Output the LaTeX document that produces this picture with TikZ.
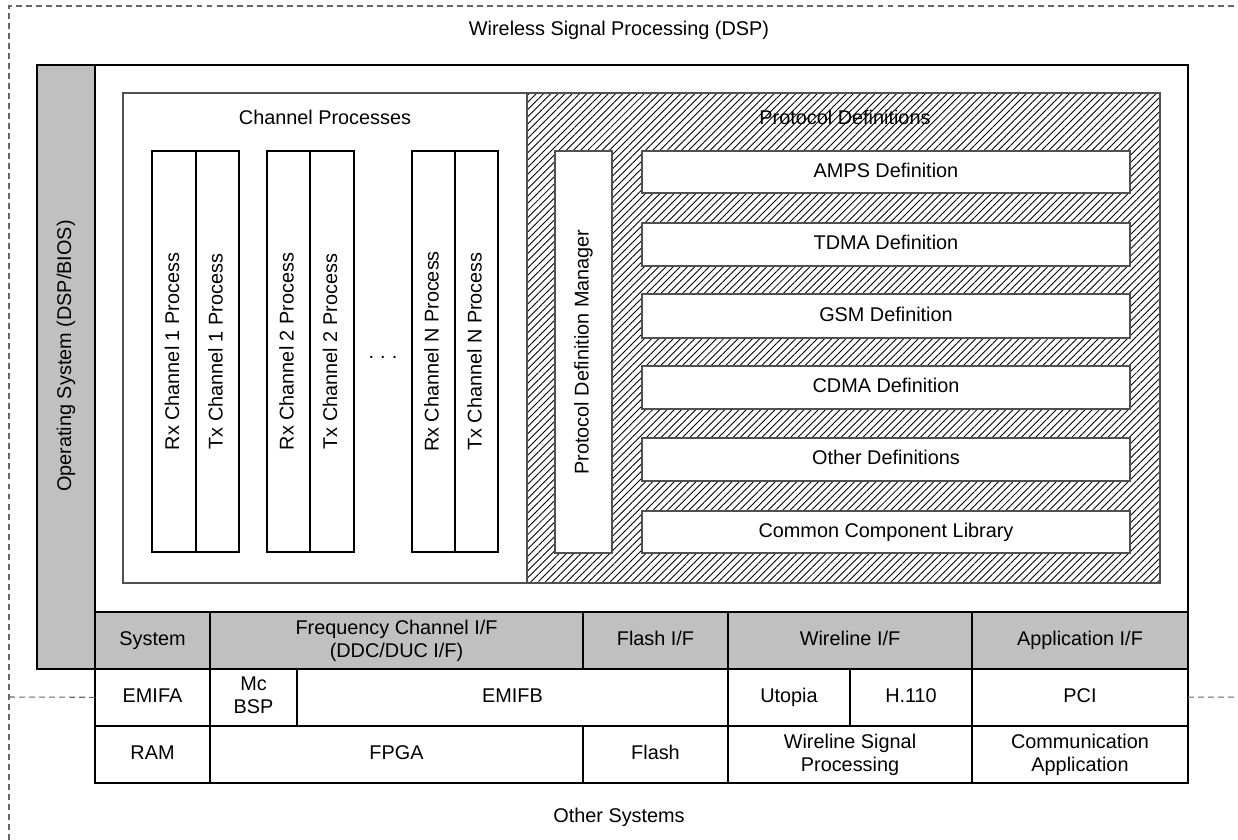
\documentclass[tikz,border=0pt]{standalone}
\usepackage{fontspec}
\setmainfont{Liberation Sans}
\usetikzlibrary{
	calc,
	patterns,
	patterns.meta,
	positioning
}
\definecolor{ifgray}{RGB}{192,192,192}
\definecolor{edgegray}{RGB}{80,80,80}
\newcommand{\cellfont}{\fontsize{11.3}{13}\selectfont}
\tikzset{
	cell/.style={draw,fill=white,inner sep=0pt,outer sep=0pt,align=center,font=\cellfont,
		execute at begin node={\vphantom{Ag}},execute at end node={\vphantom{Ag}}},
	ifcell/.style={cell,fill=ifgray},
	hatchbox/.style={cell,draw=edgegray,pattern={Lines[angle=45,distance=2.9pt,line width=0.5pt]}},
	caption/.style={inner sep=0pt,font=\cellfont},
	sysborder/.style={dashed,dash pattern=on 3.4pt off 2.3pt,draw=black!60}
}
% cell from its corners: [options]{name}{left}{top}{right}{bottom}{text}
\newcommand{\tikzCell}[7][]{\node (#2) [cell,#1,minimum width={(#5-#3)*0.02cm},minimum height={(#6-#4)*0.02cm}] at ({(#3+#5)/2},{(#4+#6)/2}) {#7};}
% same, text turned upwards
\newcommand{\tikzVCell}[7][]{\node (#2) [cell,rotate=90,#1,minimum width={(#6-#4)*0.02cm},minimum height={(#5-#3)*0.02cm}] at ({(#3+#5)/2},{(#4+#6)/2}) {#7};}

\begin{document}
\begin{tikzpicture}[x=0.02cm,y=-0.02cm,line width=0.6pt]
	\useasboundingbox (0,0) rectangle (1238,839);
	\clip (0,0) rectangle (1238,839);
	
	% other systems
	\coordinate (sysbl) at (9,850);
	\coordinate (systl) at (9,6);
	\coordinate (systr) at (1250,6);
	\draw[sysborder] (sysbl) -- (systl) -- (systr);
	\node (dsptitle) at (619,30) [caption]{Wireless Signal Processing (DSP)};
	\node (othtitle) at (619,817) [caption]{Other Systems};
	
	% DSP
	\tikzCell[ifcell]{os}{37}{65}{95}{669}{};
	\node (ostext) at (66,356) [caption,rotate=90]{Operating System (DSP/BIOS)};
	\tikzCell{dsp}{95}{65}{1188}{612}{};
	
	\tikzCell[draw=edgegray]{chan}{123}{93}{527}{583}{};
	\node (chantitle) at (325,117) [caption]{Channel Processes};
	\tikzVCell{rxa}{152}{151}{196}{552}{Rx Channel 1 Process};
	\tikzVCell{txa}{196}{151}{239}{552}{Tx Channel 1 Process};
	\tikzVCell{rxb}{267}{151}{310}{552}{Rx Channel 2 Process};
	\tikzVCell{txb}{310}{151}{354}{552}{Tx Channel 2 Process};
	\node (dots) at (383,358) [caption,anchor=base]{.\hspace{3.5pt}.\hspace{3.5pt}.};
	\tikzVCell{rxn}{412}{151}{455}{552}{Rx Channel N Process};
	\tikzVCell{txn}{455}{151}{498}{552}{Tx Channel N Process};
	
	\tikzCell[hatchbox]{proto}{527}{93}{1160}{583}{};
	\node (prototitle) at (845,117) [caption]{Protocol Definitions};
	\tikzVCell[draw=edgegray]{pdm}{555}{151}{612}{553}{Protocol Definition Manager};
	\tikzCell[draw=edgegray]{amps}{642}{151}{1130}{193}{AMPS Definition};
	\tikzCell[draw=edgegray]{tdma}{642}{223}{1130}{266}{TDMA Definition};
	\tikzCell[draw=edgegray]{gsm}{642}{294}{1130}{338}{GSM Definition};
	\tikzCell[draw=edgegray]{cdma}{642}{366}{1130}{409}{CDMA Definition};
	\tikzCell[draw=edgegray]{othdef}{642}{438}{1130}{481}{Other Definitions};
	\tikzCell[draw=edgegray]{ccl}{642}{511}{1130}{553}{Common Component Library};
	
	% interfaces
	\tikzCell[ifcell]{sys}{95}{612}{210}{669}{System};
	\tikzCell[ifcell]{freqif}{210}{612}{583}{669}{Frequency Channel I/F\\(DDC/DUC I/F)};
	\tikzCell[ifcell]{flashif}{583}{612}{728}{669}{Flash I/F};
	\tikzCell[ifcell]{wireif}{728}{612}{972}{669}{Wireline I/F};
	\tikzCell[ifcell]{appif}{972}{612}{1188}{669}{Application I/F};
	
	% buses
	\tikzCell{emifa}{95}{669}{210}{726}{EMIFA};
	\tikzCell{mcbsp}{210}{669}{297}{726}{Mc\\BSP};
	\tikzCell{emifb}{297}{669}{728}{726}{EMIFB};
	\tikzCell{utopia}{728}{669}{850}{726}{Utopia};
	\tikzCell{htel}{850}{669}{972}{726}{H.110};
	\tikzCell{pci}{972}{669}{1188}{726}{PCI};
	
	% devices
	\tikzCell{ram}{95}{726}{210}{783}{RAM};
	\tikzCell{fpga}{210}{726}{583}{783}{FPGA};
	\tikzCell{flash}{583}{726}{728}{783}{Flash};
	\tikzCell{wsp}{728}{726}{972}{783}{Wireline Signal\\Processing};
	\tikzCell{comm}{972}{726}{1188}{783}{Communication\\Application};
	
	\coordinate (sysl) at (9,697);
	\coordinate (sysr) at (1250,697);
	\draw[sysborder] (sysl) -- (emifa);
	\draw[sysborder] (pci) -- (sysr);
\end{tikzpicture}
\end{document}
